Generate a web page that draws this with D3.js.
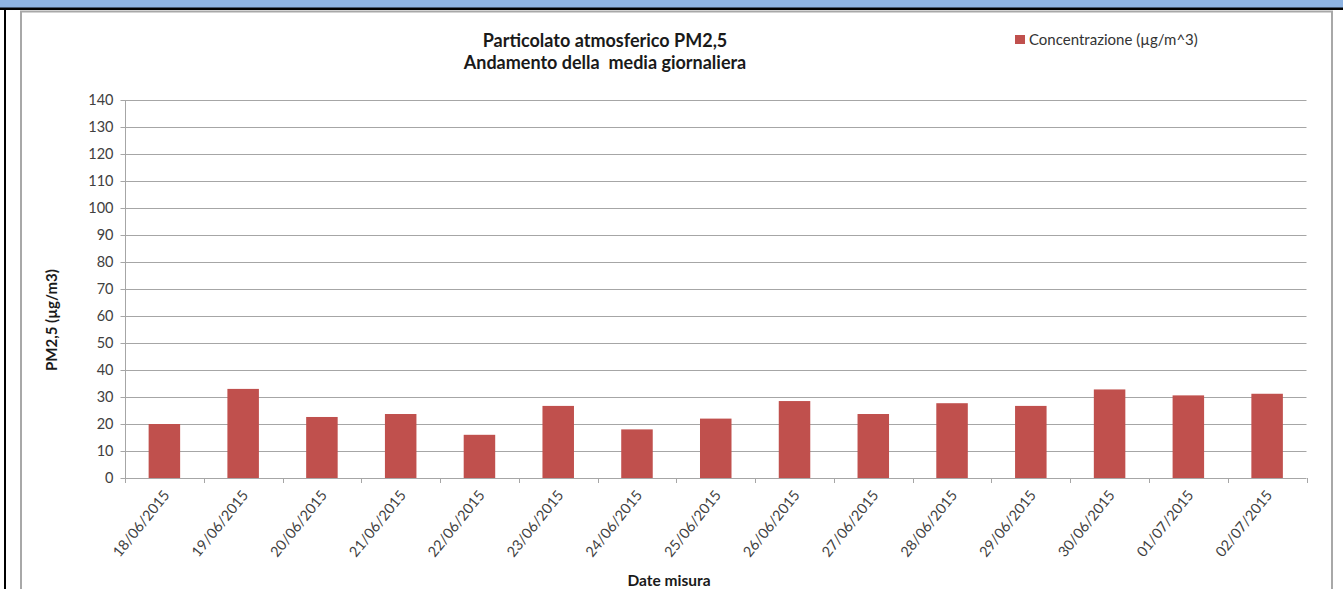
<!DOCTYPE html>
<html>
<head>
<meta charset="utf-8">
<script src="https://cdn.jsdelivr.net/npm/d3@7"></script>
<style>
html,body{margin:0;padding:0;background:#fff;overflow:hidden;}
svg{display:block;}
</style>
</head>
<body>
<svg id="chart" width="1343" height="589"></svg>
<script>
const dates = ["18/06/2015","19/06/2015","20/06/2015","21/06/2015","22/06/2015","23/06/2015","24/06/2015","25/06/2015","26/06/2015","27/06/2015","28/06/2015","29/06/2015","30/06/2015","01/07/2015","02/07/2015"];
const values = [20, 33, 22.6, 23.7, 16, 26.7, 18, 22, 28.5, 23.7, 27.7, 26.7, 32.8, 30.6, 31.2];
const yTicks = [0,10,20,30,40,50,60,70,80,90,100,110,120,130,140];
const seriesName = "Concentrazione (µg/m^3)";
const titleLines = ["Particolato atmosferico PM2,5", "Andamento della  media giornaliera"];
const yTitle = "PM2,5 (µg/m3)";
const xTitle = "Date misura";

const svg = d3.select("#chart");
const font = "Lato, 'Open Sans', sans-serif";

// page decorations
svg.append("rect").attr("x",0).attr("y",0).attr("width",1343).attr("height",8).attr("fill","#8db3e2");
svg.append("rect").attr("x",0).attr("y",7.5).attr("width",1343).attr("height",2.5).attr("fill","#000");
svg.append("rect").attr("x",4).attr("y",8).attr("width",2).attr("height",581).attr("fill","#000");
// chart frame
svg.append("rect").attr("x",21).attr("y",11.5).attr("width",1311).attr("height",600)
  .attr("fill","#fff").attr("stroke","#a8a8a8").attr("stroke-width",2);

const pLeft = 125, pRight = 1306.5, pTop = 100, pBottom = 478;
const x = d3.scaleBand().domain(dates).range([pLeft, pRight]).paddingInner(0).paddingOuter(0);
const y = d3.scaleLinear().domain([0,140]).range([pBottom, pTop]);

// gridlines
svg.append("g").selectAll("line").data(yTicks.filter(d=>d>0)).join("line")
  .attr("x1", pLeft).attr("x2", pRight)
  .attr("y1", d=>Math.round(y(d))+0.5).attr("y2", d=>Math.round(y(d))+0.5)
  .attr("stroke","#a6a6a6").attr("stroke-width",1);

// bars
const bw = x.bandwidth()*0.4;
svg.append("g").selectAll("rect").data(values).join("rect")
  .attr("x", (d,i)=> x(dates[i]) + x.bandwidth()/2 - bw/2)
  .attr("width", bw)
  .attr("y", d=> y(d))
  .attr("height", d=> y(0)-y(d))
  .attr("fill","#c0504d");

// y axis
const yAxis = d3.axisLeft(y).tickValues(yTicks).tickSize(5).tickPadding(7).tickFormat(d3.format("d"));
const gy = svg.append("g").attr("transform",`translate(${pLeft+0.5},0)`).call(yAxis);
gy.select(".domain").attr("stroke","#a6a6a6").attr("d",`M0,${pTop}V${pBottom}`);
gy.selectAll(".tick line").attr("stroke","#a6a6a6");
gy.selectAll(".tick text").attr("font-family",font).attr("font-size",14.5).attr("fill","#404040");

// x axis
const xAxis = d3.axisBottom(x).tickSize(0).tickFormat(d=>d);
const gx = svg.append("g").attr("transform",`translate(0,${pBottom+0.5})`).call(xAxis);
gx.select(".domain").attr("stroke","#a6a6a6").attr("d",`M${pLeft},0H${pRight}`);
gx.selectAll(".tick text")
  .attr("font-family",font).attr("font-size",14.5).attr("fill","#404040")
  .attr("text-anchor","end")
  .attr("transform","translate(6,17) rotate(-51)")
  .attr("dy","0").attr("y",0).attr("x",0);
// category boundary ticks
const bounds = dates.map(d=>x(d)).concat([pRight]);
svg.append("g").selectAll("line").data(bounds).join("line")
  .attr("x1",d=>Math.round(d)+0.5).attr("x2",d=>Math.round(d)+0.5)
  .attr("y1",pBottom).attr("y2",pBottom+5)
  .attr("stroke","#a6a6a6");

// title
svg.append("text").attr("x",605).attr("y",47).attr("text-anchor","middle")
  .attr("font-family",font).attr("font-weight","bold").attr("font-size",18).attr("fill","#1a1a1a")
  .text(titleLines[0]);
svg.append("text").attr("x",605).attr("y",68.5).attr("text-anchor","middle")
  .attr("font-family",font).attr("font-weight","bold").attr("font-size",18).attr("fill","#1a1a1a")
  .style("white-space","pre").text(titleLines[1]);

// legend
svg.append("rect").attr("x",1015).attr("y",35).attr("width",10).attr("height",9).attr("fill","#c0504d");
svg.append("text").attr("x",1029).attr("y",44.5).attr("font-family",font).attr("font-size",15).attr("fill","#333")
  .text(seriesName);

// axis titles
svg.append("text").attr("transform","translate(57,320) rotate(-90)").attr("text-anchor","middle")
  .attr("font-family",font).attr("font-weight","bold").attr("font-size",15).attr("fill","#1a1a1a")
  .text(yTitle);
svg.append("text").attr("x",669).attr("y",586).attr("text-anchor","middle")
  .attr("font-family",font).attr("font-weight","bold").attr("font-size",15.5).attr("fill","#1a1a1a")
  .text(xTitle);
</script>
</body>
</html>
